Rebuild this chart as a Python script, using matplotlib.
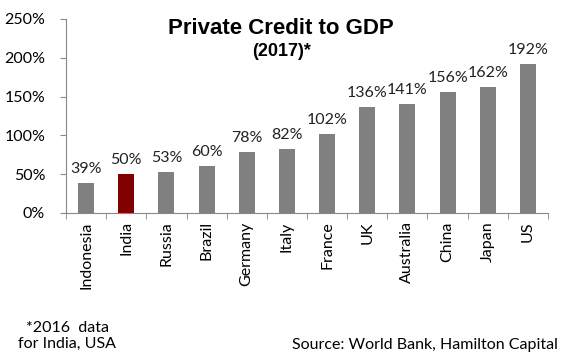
import matplotlib
matplotlib.use("Agg")
import matplotlib.pyplot as plt
import numpy as np

countries = ["Indonesia", "India", "Russia", "Brazil", "Germany", "Italy",
             "France", "UK", "Australia", "China", "Japan", "US"]
credit = [39, 50, 53, 60, 78, 82, 102, 136, 141, 156, 162, 192]
yticks = [0, 50, 100, 150, 200, 250]

plt.rcParams['font.family'] = ['Lato', 'DejaVu Sans']
fs = 11.5

fig = plt.figure(figsize=(5.65, 3.6), dpi=100)
ax = fig.add_axes([66 / 565, 1 - 213 / 360, (548 - 66) / 565, (213 - 19) / 360])

colors = ["#808080"] * len(countries)
colors[countries.index("India")] = "#800000"
x = np.arange(len(countries))
ax.bar(x, credit, width=0.4, color=colors)

for xi, v in zip(x, credit):
    ax.text(xi, v + 9, f"{v}%", ha="center", va="bottom", fontsize=fs, color="#222222")

ax.set_xlim(-0.5, len(countries) - 0.5)
ax.set_ylim(0, 250)
ax.set_yticks(yticks)
ax.set_yticklabels([f"{t}%" for t in yticks], fontsize=fs)
ax.set_xticks(x)
ax.set_xticklabels(countries, rotation=90, fontsize=fs)
ax.tick_params(axis="x", length=0, pad=6)
ax.set_xticks(np.arange(-0.5, len(countries)), minor=True)
ax.tick_params(axis="x", which="minor", length=4, color="#888888")
ax.tick_params(axis="y", length=4, color="#888888", pad=11)
for s in ["top", "right"]:
    ax.spines[s].set_visible(False)
for s in ["left", "bottom"]:
    ax.spines[s].set_color("#888888")

fig.text(281 / 565, 1 - 28 / 360, "Private Credit to GDP", ha="center", va="center",
         fontsize=16, fontweight="bold", family="Liberation Sans")
fig.text(282 / 565, 1 - 52 / 360, "(2017)*", ha="center", va="center",
         fontsize=13, fontweight="bold", family="Liberation Sans")

fig.text(18 / 565, 1 - 336 / 360, "*2016  data\nfor India, USA", ha="left", va="center",
         fontsize=fs, linespacing=1.15, multialignment="center")
fig.text(558 / 565, 1 - 345 / 360, "Source: World Bank, Hamilton Capital", ha="right",
         va="center", fontsize=fs)

fig.savefig("out.png", dpi=100)
